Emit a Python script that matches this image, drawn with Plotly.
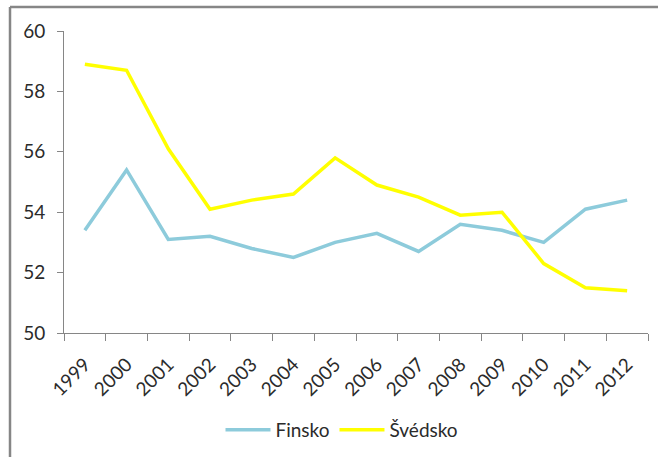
import plotly.graph_objects as go

years = ["1999", "2000", "2001", "2002", "2003", "2004", "2005",
         "2006", "2007", "2008", "2009", "2010", "2011", "2012"]
finsko = [53.4, 55.4, 53.1, 53.2, 52.8, 52.5, 53.0, 53.3, 52.7, 53.6, 53.4, 53.0, 54.1, 54.4]
svedsko = [58.9, 58.7, 56.1, 54.1, 54.4, 54.6, 55.8, 54.9, 54.5, 53.9, 54.0, 52.3, 51.5, 51.4]
y_ticks = [50, 52, 54, 56, 58, 60]

FONT = "Lato"
TXT = "#2b2b2b"
AX = "#868686"

fig = go.Figure()
fig.add_trace(go.Scatter(x=years, y=finsko, name="Finsko", mode="lines",
                         line=dict(color="#8DCBDB", width=3.5)))
fig.add_trace(go.Scatter(x=years, y=svedsko, name="Švédsko", mode="lines",
                         line=dict(color="#FFFF00", width=3.5)))

W, H = 658, 457
ml, mr, mt, mb = 64, 10, 31, 124
pw, ph = W - ml - mr, H - mt - mb

def px_x(x):
    return (x - ml) / pw

def px_y(y):
    return (H - mb - y) / ph

fig.update_layout(
    width=W, height=H,
    margin=dict(l=ml, r=mr, t=mt, b=mb, pad=0, autoexpand=False),
    paper_bgcolor="white", plot_bgcolor="white",
    font=dict(family=FONT, size=18, color=TXT),
    showlegend=True,
    legend=dict(orientation="h", xref="container", yref="container",
                x=342 / W, xanchor="center", y=1 - 430 / H, yanchor="middle",
                itemwidth=45,
                font=dict(family=FONT, size=19, color=TXT),
                bgcolor="rgba(0,0,0,0)"),
    xaxis=dict(type="category", range=[-0.5, 13.5], tickson="boundaries",
               automargin=False,
               showline=True, linecolor=AX, linewidth=1,
               ticks="outside", ticklen=7, tickcolor=AX, tickwidth=1,
               tickangle=-45, ticklabelstandoff=12, showgrid=False, zeroline=False,
               tickfont=dict(family=FONT, size=19, color=TXT)),
    yaxis=dict(range=[50, 60], tickvals=y_ticks, showline=True, linecolor=AX,
               automargin=False,
               linewidth=1, ticks="outside", ticklen=6, tickcolor=AX,
               ticklabelstandoff=8,
               showgrid=False, zeroline=False,
               tickfont=dict(family=FONT, size=19, color=TXT)),
    shapes=[
        dict(type="line", xref="paper", yref="paper",
             x0=px_x(10), x1=px_x(10), y0=px_y(7), y1=px_y(460),
             line=dict(color=AX, width=2.5)),
        dict(type="line", xref="paper", yref="paper",
             x0=px_x(10), x1=px_x(660), y0=px_y(7), y1=px_y(7),
             line=dict(color=AX, width=2.5)),
    ],
)

fig.write_html("out.html", config={"displayModeBar": False},
               post_script="document.body.style.margin='0';document.body.style.overflow='hidden';")
